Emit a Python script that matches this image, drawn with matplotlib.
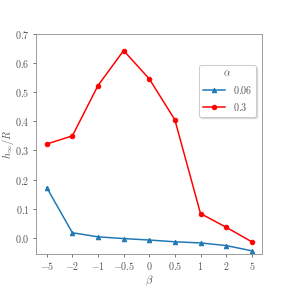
import numpy as np
import matplotlib
matplotlib.use('Agg')
import matplotlib.pyplot as plt

plt.rcParams['mathtext.fontset'] = 'cm'
plt.rcParams['font.family'] = 'serif'
plt.rcParams['font.serif'] = ['DejaVu Serif']

# categories on the x axis
betas = ['-5', '-2', '-1', '-0.5', '0', '0.5', '1', '2', '5']
# h_inf/R for each alpha
h_006 = [0.172, 0.017, 0.003, -0.003, -0.008, -0.014, -0.018, -0.027, -0.045]
h_03 = [0.322, 0.350, 0.523, 0.643, 0.546, 0.405, 0.083, 0.036, -0.014]

fig = plt.figure(figsize=(291/72, 291/72), dpi=72)
ax = fig.add_axes([36/291, 1-254/291, 226/291, 220/291])

x = np.arange(len(betas))
ax.plot(x, h_006, '-^', color='#1f77b4', lw=1.5, ms=4.5, label='$0.06$')
ax.plot(x, h_03, '-o', color='red', lw=1.5, ms=4.5, label='$0.3$')

ax.set_xticks(x)
ax.set_xticklabels(['$' + b + '$' for b in betas])
ax.set_yticks(np.arange(0, 0.71, 0.1))
ax.set_yticklabels(['$%.1f$' % v for v in np.arange(0, 0.71, 0.1)])
ax.set_xlim(-0.42, 8.4)
ax.set_ylim(-0.056, 0.7)
ax.tick_params(labelsize=10, colors='#555555', length=3)
for s in ax.spines.values():
    s.set_color('#888888')
ax.set_xlabel(r'$\beta$', fontsize=11, color='#555555', labelpad=1)
ax.set_ylabel(r'$h_\infty/R$', fontsize=10.5, color='#555555', labelpad=-1)

leg = ax.legend(title=r'$\alpha$', loc='upper right', bbox_to_anchor=(0.995, 0.88),
                fontsize=10, title_fontsize=10, shadow={'alpha': 0.15}, fancybox=True,
                handlelength=2.2, labelcolor='#555555', edgecolor='#cccccc')
leg.get_title().set_color('#555555')

fig.savefig('out.png', dpi=72)
